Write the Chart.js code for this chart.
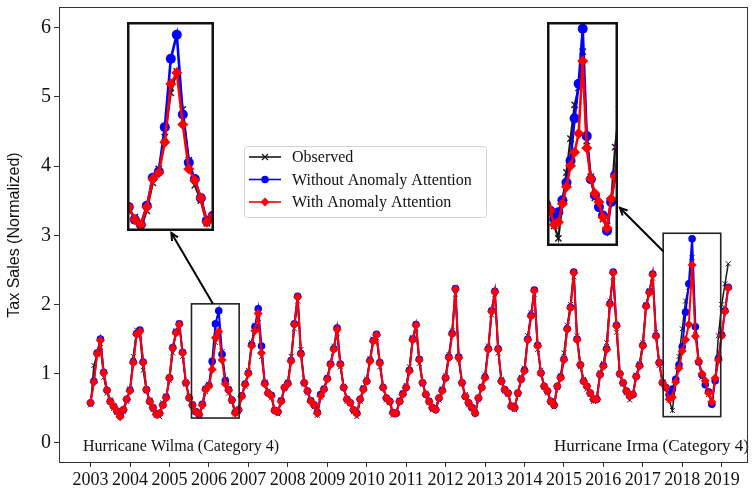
<!DOCTYPE html>
<html><head><meta charset="utf-8">
<script src="https://cdn.jsdelivr.net/npm/chart.js@4.4.1/dist/chart.umd.min.js"></script>
<style>
html,body{margin:0;padding:0;background:#fff;}
#wrap{position:relative;width:754px;height:488px;overflow:hidden;}
#main{position:absolute;left:0;top:0;}
.inset{position:absolute;background:#fff;}
</style></head>
<body>
<div id="wrap">
<canvas id="main" width="754" height="488"></canvas>
<canvas id="in1" class="inset"></canvas>
<canvas id="in2" class="inset"></canvas>
</div>
<script>
// ---------- data ----------
const tickLabels = ['2003','2004','2005','2006','2007','2008','2009','2010','2011','2012','2013','2014','2015','2016','2017','2018','2019'];
const seriesNames = ['Observed', 'Without Anomaly Attention', 'With Anomaly Attention'];
const yTicks = [0, 1, 2, 3, 4, 5, 6];
const hurricaneLabels = ['Hurricane Wilma (Category 4)', 'Hurricane Irma (Category 4)'];

// monthly observations, Jan 2003 .. Mar 2019 (index = month number)
const observed = [
0.55,1.12,1.28,1.38,0.95,0.72,0.62,0.50,0.44,0.40,0.45,0.60,
0.78,1.25,1.63,1.55,1.05,0.75,0.62,0.48,0.40,0.38,0.58,0.68,
0.90,1.30,1.62,1.73,1.25,0.85,0.68,0.52,0.47,0.38,0.52,0.74,
0.85,1.10,1.45,1.62,1.32,0.92,0.72,0.60,0.42,0.45,0.70,0.82,
1.05,1.45,1.70,1.80,1.25,0.88,0.75,0.65,0.48,0.42,0.62,0.78,
0.88,1.25,1.65,2.05,1.35,0.85,0.72,0.62,0.52,0.40,0.66,0.79,
0.95,1.15,1.40,1.58,1.10,0.82,0.60,0.58,0.45,0.38,0.60,0.80,
0.92,1.22,1.50,1.52,1.10,0.82,0.62,0.58,0.40,0.44,0.62,0.72,
0.83,1.10,1.52,1.65,1.15,0.85,0.72,0.58,0.48,0.50,0.62,0.78,
0.98,1.28,1.62,2.15,1.20,0.85,0.70,0.55,0.50,0.45,0.62,0.82,
0.98,1.40,1.85,2.15,1.30,0.92,0.75,0.70,0.55,0.48,0.70,0.95,
1.08,1.55,1.88,2.15,1.35,1.05,0.80,0.72,0.58,0.52,0.80,0.98,
1.30,1.70,2.00,2.40,1.55,1.10,0.92,0.78,0.70,0.60,0.66,1.02,
1.15,1.45,2.05,2.40,1.60,0.98,0.85,0.72,0.62,0.72,0.98,1.15,
1.45,2.00,2.20,2.38,1.60,1.12,0.88,0.78,0.62,0.47,0.90,1.25,
1.65,2.05,2.25,2.68,1.62,1.20,0.95,0.85,0.70,0.62,0.90,1.55,
2.00,2.30,2.59];

const withoutAttention = [
0.58,0.89,1.30,1.50,1.02,0.76,0.60,0.53,0.46,0.39,0.48,0.63,
0.76,1.17,1.58,1.63,1.17,0.77,0.60,0.51,0.42,0.43,0.55,0.66,
0.94,1.38,1.60,1.72,1.31,0.87,0.65,0.55,0.45,0.41,0.56,0.78,
0.83,1.18,1.72,1.91,1.28,0.90,0.77,0.62,0.44,0.48,0.68,0.85,
1.01,1.42,1.68,1.94,1.40,0.86,0.72,0.69,0.47,0.45,0.61,0.80,
0.86,1.19,1.72,2.12,1.29,0.87,0.75,0.61,0.55,0.44,0.70,0.78,
0.93,1.14,1.36,1.66,1.14,0.80,0.63,0.58,0.48,0.43,0.63,0.78,
0.89,1.19,1.48,1.57,1.16,0.80,0.65,0.60,0.44,0.43,0.60,0.71,
0.80,1.05,1.50,1.71,1.21,0.87,0.70,0.60,0.51,0.48,0.65,0.76,
0.94,1.24,1.58,2.23,1.24,0.87,0.67,0.58,0.51,0.43,0.65,0.80,
0.95,1.36,1.91,2.19,1.36,0.89,0.77,0.72,0.53,0.51,0.72,0.92,
1.05,1.50,1.84,2.21,1.41,1.01,0.82,0.75,0.60,0.55,0.82,0.95,
1.21,1.65,1.96,2.47,1.50,1.13,0.89,0.82,0.72,0.63,0.63,0.99,
1.12,1.36,2.01,2.47,1.70,1.00,0.87,0.75,0.68,0.70,0.96,1.12,
1.41,1.98,2.18,2.44,1.55,1.16,0.87,0.80,0.70,0.78,0.92,1.13,
1.39,1.89,2.30,2.95,1.68,1.17,0.98,0.84,0.74,0.56,0.90,1.22,
1.56,1.91,2.25];

const withAttention = [
0.58,0.88,1.29,1.48,1.01,0.76,0.60,0.53,0.46,0.38,0.48,0.63,
0.75,1.16,1.57,1.61,1.16,0.77,0.60,0.51,0.41,0.43,0.55,0.65,
0.94,1.37,1.59,1.71,1.30,0.87,0.65,0.55,0.45,0.41,0.55,0.77,
0.82,1.06,1.52,1.61,1.20,0.85,0.76,0.62,0.43,0.48,0.67,0.84,
1.00,1.40,1.62,1.87,1.30,0.85,0.72,0.68,0.47,0.45,0.60,0.80,
0.85,1.18,1.71,2.11,1.28,0.87,0.75,0.60,0.55,0.43,0.68,0.77,
0.92,1.13,1.35,1.64,1.13,0.80,0.63,0.58,0.48,0.42,0.63,0.77,
0.89,1.18,1.47,1.56,1.15,0.80,0.65,0.60,0.43,0.43,0.60,0.70,
0.80,1.04,1.49,1.70,1.20,0.87,0.70,0.60,0.51,0.48,0.65,0.75,
0.94,1.23,1.57,2.22,1.23,0.87,0.67,0.58,0.51,0.43,0.65,0.80,
0.94,1.35,1.90,2.18,1.35,0.89,0.77,0.72,0.53,0.51,0.72,0.92,
1.04,1.49,1.83,2.20,1.40,1.01,0.82,0.75,0.60,0.55,0.82,0.94,
1.20,1.64,1.95,2.46,1.49,1.13,0.89,0.82,0.72,0.63,0.63,0.99,
1.11,1.35,2.00,2.46,1.69,1.00,0.87,0.75,0.68,0.70,0.96,1.11,
1.40,1.97,2.17,2.43,1.54,1.16,0.87,0.80,0.63,0.66,0.88,1.08,
1.33,1.49,1.71,2.57,1.54,1.18,1.00,0.90,0.72,0.59,0.94,1.20,
1.55,1.90,2.24];

// zoomed windows (data units) shown in the insets
const wilmaWindow = {x0: 30.7, x1: 45.2, y0: 0.36, y1: 2.01};
const irmaWindow  = {x0: 174.2, x1: 191.7, y0: 0.38, y1: 3.03};

// ---------- layout / style ----------
const months = observed.map((_, i) => i);
const toPts = arr => months.map((m, i) => ({x: m, y: arr[i]}));
const BLACK = '#1a1a1a', BLUE = '#0000ff', RED = '#ff0000';
const SERIF = '"Liberation Serif", "Times New Roman", serif';
const inset1Box = {left: 127, top: 22, width: 87, height: 209};
const inset2Box = {left: 547, top: 22, width: 71, height: 224};

function makeDatasets(big) {
  return [
    {label: seriesNames[0], data: toPts(observed), borderColor: BLACK, backgroundColor: BLACK,
     borderWidth: big ? 2.2 : 1.5, pointStyle: 'crossRot', pointRadius: big ? 4.5 : 3.5, pointBorderWidth: big ? 1.4 : 1,
     pointBorderColor: BLACK, order: 3},
    {label: seriesNames[1], data: toPts(withoutAttention), borderColor: BLUE, backgroundColor: BLUE,
     borderWidth: big ? 2.6 : 2, pointStyle: 'circle', pointRadius: big ? 5 : 3.8, pointBorderWidth: 0,
     pointBackgroundColor: BLUE, order: 2},
    {label: seriesNames[2], data: toPts(withAttention), borderColor: RED, backgroundColor: RED,
     borderWidth: big ? 2.6 : 2, pointStyle: 'rectRot', pointRadius: big ? 5.5 : 4.5, pointBorderWidth: 0,
     pointBackgroundColor: RED, order: 1}
  ];
}

function drawArrow(ctx, x1, y1, x2, y2) {
  ctx.beginPath(); ctx.moveTo(x1, y1); ctx.lineTo(x2, y2); ctx.stroke();
  const ang = Math.atan2(y2 - y1, x2 - x1), L = 8, s = 0.45;
  ctx.beginPath();
  ctx.moveTo(x2 - L * Math.cos(ang - s), y2 - L * Math.sin(ang - s));
  ctx.lineTo(x2, y2);
  ctx.lineTo(x2 - L * Math.cos(ang + s), y2 - L * Math.sin(ang + s));
  ctx.stroke();
}

function legendMarker(ctx, kind, x, y) {
  if (kind === 0) {
    ctx.strokeStyle = BLACK; ctx.lineWidth = 1.2;
    ctx.beginPath(); ctx.moveTo(x - 3, y - 3); ctx.lineTo(x + 3, y + 3);
    ctx.moveTo(x - 3, y + 3); ctx.lineTo(x + 3, y - 3); ctx.stroke();
  } else if (kind === 1) {
    ctx.fillStyle = BLUE; ctx.beginPath(); ctx.arc(x, y, 3.8, 0, Math.PI * 2); ctx.fill();
  } else {
    ctx.fillStyle = RED; ctx.beginPath();
    ctx.moveTo(x, y - 4.5); ctx.lineTo(x + 4.5, y); ctx.lineTo(x, y + 4.5); ctx.lineTo(x - 4.5, y);
    ctx.closePath(); ctx.fill();
  }
}

const decor = {
  id: 'decor',
  afterDatasetsDraw(chart) {
    const {ctx, chartArea: a, scales: {x, y}} = chart;
    ctx.save();
    // zoom windows
    ctx.strokeStyle = '#222'; ctx.lineWidth = 1.6;
    const rects = [wilmaWindow, irmaWindow].map(w => {
      const l = x.getPixelForValue(w.x0), r = x.getPixelForValue(w.x1);
      const t = y.getPixelForValue(w.y1), b = y.getPixelForValue(w.y0);
      ctx.strokeRect(l, t, r - l, b - t);
      return {l, r, t, b};
    });
    // arrows from windows to insets
    ctx.strokeStyle = '#000'; ctx.lineWidth = 2;
    drawArrow(ctx, rects[0].l + 0.45 * (rects[0].r - rects[0].l), rects[0].t,
      inset1Box.left + 0.51 * inset1Box.width, inset1Box.top + inset1Box.height + 2);
    drawArrow(ctx, rects[1].l, rects[1].t + 18,
      inset2Box.left + inset2Box.width + 2, inset2Box.top + 0.83 * inset2Box.height);
    // hurricane labels
    ctx.fillStyle = '#111'; ctx.font = '16px ' + SERIF; ctx.textBaseline = 'alphabetic';
    ctx.textAlign = 'left'; ctx.fillText(hurricaneLabels[0], a.left + 24, a.bottom - 12);
    ctx.font = '17px ' + SERIF;
    ctx.textAlign = 'right'; ctx.fillText(hurricaneLabels[1], a.right + 1, a.bottom - 12);
    // legend
    const lx = 244, ly = 146, lw = 242, lh = 71;
    ctx.fillStyle = 'rgba(255,255,255,0.85)'; ctx.strokeStyle = '#d4d4d4'; ctx.lineWidth = 1;
    ctx.beginPath(); ctx.roundRect(lx + 0.5, ly + 0.5, lw, lh, 3); ctx.fill(); ctx.stroke();
    const colors = [BLACK, BLUE, RED];
    seriesNames.forEach((name, i) => {
      const cy = ly + 11 + i * 22.5;
      ctx.strokeStyle = colors[i]; ctx.lineWidth = 1.6;
      ctx.beginPath(); ctx.moveTo(lx + 5, cy); ctx.lineTo(lx + 37, cy); ctx.stroke();
      legendMarker(ctx, i, lx + 21, cy);
      ctx.fillStyle = '#111'; ctx.font = '16px ' + SERIF; ctx.textAlign = 'left'; ctx.textBaseline = 'middle';
      ctx.fillText(name, lx + 48, cy + 1);
    });
    ctx.restore();
  },
  afterDraw(chart) {
    const {ctx, chartArea: a} = chart;
    ctx.save(); ctx.strokeStyle = '#333'; ctx.lineWidth = 1;
    ctx.strokeRect(Math.round(a.left) + 0.5, Math.round(a.top) + 0.5,
      Math.round(a.right - a.left) - 1, Math.round(a.bottom - a.top) - 1);
    ctx.restore();
  }
};

new Chart(document.getElementById('main'), {
  type: 'line',
  data: {datasets: makeDatasets(false)},
  options: {
    responsive: false, animation: false, devicePixelRatio: 1,
    layout: {padding: {left: 0, right: 6, top: 7, bottom: 0}, autoPadding: false},
    plugins: {legend: {display: false}, tooltip: {enabled: false}},
    elements: {line: {tension: 0}},
    scales: {
      x: {
        type: 'linear', min: -9.6, max: 200,
        afterBuildTicks: s => { s.ticks = tickLabels.map((_, i) => ({value: i * 12})); },
        afterFit: s => { s.height = 25; s.paddingLeft = 0; s.paddingRight = 0; },
        ticks: {autoSkip: false, maxRotation: 0, padding: 2, color: '#111',
          font: {family: SERIF, size: 18},
          callback: v => tickLabels[Math.round(v / 12)]},
        grid: {drawOnChartArea: false, drawTicks: true, tickLength: 4, color: '#333'},
        border: {display: false}
      },
      y: {
        type: 'linear', min: -0.29, max: 6.3,
        afterBuildTicks: s => { s.ticks = yTicks.map(v => ({value: v})); },
        afterFit: s => { s.width = 59; s.paddingTop = 0; s.paddingBottom = 0; },
        ticks: {padding: 3, color: '#111', font: {family: SERIF, size: 20}},
        grid: {drawOnChartArea: false, drawTicks: true, tickLength: 5, color: '#333'},
        border: {display: false},
        title: {display: true, text: 'Tax Sales (Normalized)', color: '#111',
          font: {family: '"Liberation Sans", Arial, sans-serif', size: 16}, padding: {top: 5, bottom: 0}}
      }
    }
  },
  plugins: [decor]
});

const insetFrame = {
  id: 'insetFrame',
  afterDraw(chart) {
    const {ctx, width, height} = chart;
    ctx.save(); ctx.strokeStyle = '#111'; ctx.lineWidth = 2.5;
    ctx.strokeRect(1.25, 1.25, width - 2.5, height - 2.5); ctx.restore();
  }
};

function makeInset(id, box, win) {
  const c = document.getElementById(id);
  c.width = box.width; c.height = box.height;
  c.style.left = box.left + 'px'; c.style.top = box.top + 'px';
  c.style.width = box.width + 'px'; c.style.height = box.height + 'px';
  new Chart(c, {
    type: 'line',
    data: {datasets: makeDatasets(true)},
    options: {
      responsive: false, animation: false, devicePixelRatio: 1,
      layout: {padding: 0, autoPadding: false},
      plugins: {legend: {display: false}, tooltip: {enabled: false}},
      scales: {
        x: {type: 'linear', display: false, min: win.x0, max: win.x1},
        y: {type: 'linear', display: false, min: win.y0, max: win.y1}
      }
    },
    plugins: [insetFrame]
  });
}
makeInset('in1', inset1Box, wilmaWindow);
makeInset('in2', inset2Box, irmaWindow);
</script>
</body></html>
